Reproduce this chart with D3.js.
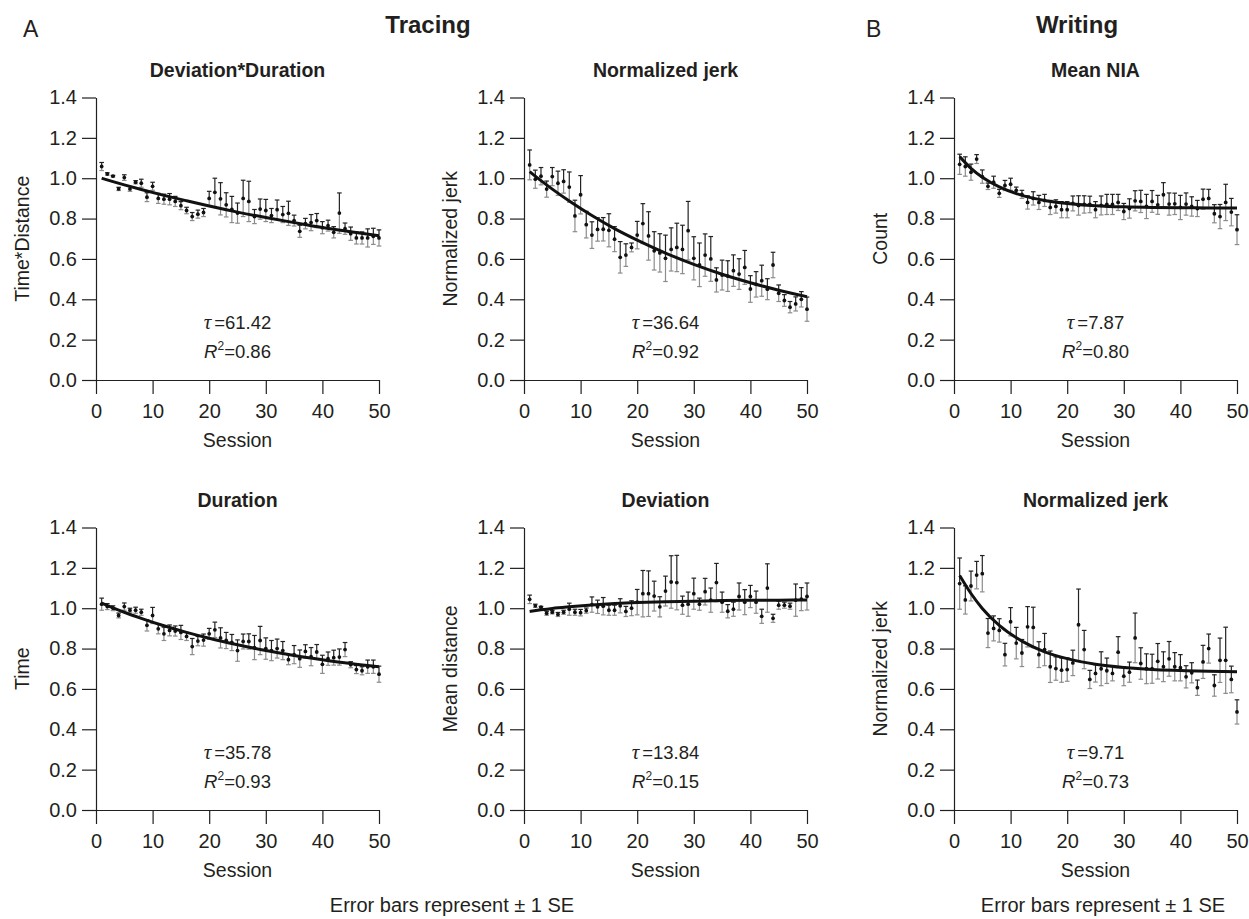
<!DOCTYPE html>
<html>
<head>
<meta charset="utf-8">
<script src="https://cdn.jsdelivr.net/npm/d3@7/dist/d3.min.js"></script>
<style>
  body { margin: 0; background: #fff; }
  svg { display: block; font-family: "Liberation Sans", Arial, Helvetica, sans-serif; }
</style>
</head>
<body>
<svg id="fig"></svg>
<script>
// sessions 1..50
var sessions = [1,2,3,4,5,6,7,8,9,10,11,12,13,14,15,16,17,18,19,20,
  21,22,23,24,25,26,27,28,29,30,31,32,33,34,35,36,37,38,39,40,
  41,42,43,44,45,46,47,48,49,50];

var xTicks = [0, 10, 20, 30, 40, 50];
var yTicks = [0, 0.2, 0.4, 0.6, 0.8, 1.0, 1.2, 1.4];

// Tracing - Deviation*Duration
var devDurMean = [1.058,1.021,1.01,0.947,1.003,0.947,0.98,0.975,0.906,0.96,
  0.90,0.896,0.896,0.885,0.864,0.84,0.81,0.822,0.83,0.90,
  0.93,0.898,0.868,0.845,0.827,0.90,0.885,0.81,0.847,0.84,
  0.815,0.844,0.82,0.826,0.79,0.737,0.775,0.78,0.79,0.755,
  0.765,0.732,0.827,0.75,0.725,0.704,0.704,0.704,0.712,0.704];
var devDurSE = [0.02,0.006,0.004,0.008,0.014,0.012,0.008,0.02,0.022,0.02,
  0.025,0.025,0.028,0.025,0.02,0.016,0.02,0.02,0.02,0.035,
  0.07,0.08,0.06,0.065,0.05,0.09,0.1,0.035,0.05,0.055,
  0.035,0.048,0.04,0.06,0.027,0.03,0.026,0.04,0.035,0.03,
  0.027,0.028,0.1,0.028,0.033,0.03,0.03,0.045,0.04,0.04];

// Tracing - Normalized jerk
var tracJerkMean = [1.066,0.995,1.01,0.946,1.008,0.975,0.984,0.956,0.813,0.918,
  0.77,0.718,0.746,0.747,0.742,0.698,0.608,0.619,0.657,0.718,
  0.775,0.714,0.64,0.63,0.603,0.647,0.657,0.647,0.74,0.603,
  0.571,0.619,0.60,0.496,0.52,0.515,0.542,0.525,0.558,0.451,
  0.474,0.492,0.45,0.57,0.43,0.394,0.361,0.377,0.40,0.351];
var tracJerkSE = [0.074,0.045,0.043,0.04,0.045,0.06,0.058,0.075,0.078,0.095,
  0.066,0.066,0.058,0.058,0.082,0.062,0.078,0.056,0.022,0.068,
  0.099,0.12,0.095,0.095,0.115,0.107,0.12,0.12,0.145,0.107,
  0.108,0.105,0.111,0.06,0.074,0.076,0.078,0.076,0.084,0.066,
  0.063,0.077,0.052,0.063,0.041,0.029,0.028,0.035,0.038,0.06];

// Writing - Mean NIA
var niaMean = [1.069,1.058,1.03,1.095,1.008,0.96,0.98,0.925,0.964,0.97,
  0.94,0.92,0.88,0.90,0.88,0.89,0.855,0.86,0.844,0.844,
  0.875,0.865,0.87,0.87,0.844,0.865,0.87,0.87,0.88,0.835,
  0.85,0.888,0.885,0.86,0.885,0.868,0.918,0.872,0.873,0.855,
  0.872,0.86,0.85,0.896,0.90,0.824,0.81,0.88,0.832,0.745];
var niaSE = [0.05,0.048,0.04,0.022,0.033,0.016,0.03,0.02,0.025,0.03,
  0.016,0.02,0.033,0.033,0.035,0.03,0.035,0.033,0.04,0.04,
  0.037,0.048,0.043,0.041,0.04,0.047,0.05,0.05,0.04,0.04,
  0.048,0.05,0.055,0.06,0.054,0.047,0.06,0.055,0.053,0.06,
  0.055,0.048,0.04,0.05,0.045,0.045,0.06,0.09,0.068,0.074];

// Tracing - Duration
var durMean = [1.02,1.008,1.0,0.964,1.008,0.99,0.99,0.98,0.915,0.964,
  0.898,0.873,0.89,0.887,0.88,0.86,0.81,0.837,0.842,0.873,
  0.893,0.853,0.84,0.83,0.79,0.835,0.835,0.805,0.84,0.80,
  0.79,0.80,0.79,0.745,0.77,0.75,0.786,0.76,0.783,0.722,
  0.75,0.755,0.758,0.795,0.72,0.696,0.69,0.71,0.71,0.673];
var durSE = [0.03,0.015,0.012,0.012,0.018,0.01,0.015,0.015,0.028,0.04,
  0.025,0.033,0.027,0.025,0.035,0.02,0.04,0.023,0.03,0.027,
  0.038,0.05,0.04,0.04,0.053,0.037,0.038,0.06,0.07,0.053,
  0.05,0.047,0.045,0.025,0.045,0.043,0.033,0.045,0.037,0.045,
  0.033,0.037,0.04,0.035,0.015,0.02,0.02,0.033,0.033,0.04];

// Tracing - Deviation
var devMean = [1.044,1.012,1.005,0.975,0.98,0.969,0.98,0.995,0.98,0.978,
  0.988,1.018,1.007,1.01,0.99,0.99,1.012,0.984,1.0,1.03,
  1.072,1.072,1.06,1.007,1.085,1.13,1.127,1.015,1.02,1.072,
  1.02,1.082,1.04,1.127,1.03,0.985,0.995,1.058,1.03,1.058,
  1.03,0.96,1.1,0.95,1.015,1.015,1.01,1.04,1.045,1.058];
var devSE = [0.021,0.008,0.004,0.01,0.008,0.01,0.01,0.03,0.015,0.016,
  0.013,0.038,0.033,0.043,0.025,0.025,0.035,0.025,0.037,0.063,
  0.115,0.113,0.074,0.05,0.074,0.13,0.135,0.045,0.06,0.077,
  0.03,0.066,0.06,0.095,0.05,0.033,0.035,0.067,0.062,0.055,
  0.055,0.035,0.12,0.02,0.02,0.015,0.015,0.08,0.057,0.067];

// Writing - Normalized jerk
var wriJerkMean = [1.122,1.041,1.11,1.164,1.171,0.877,0.90,0.89,0.77,0.933,
  0.827,0.778,0.908,0.905,0.77,0.795,0.71,0.701,0.693,0.696,
  0.729,0.918,0.795,0.647,0.677,0.70,0.69,0.677,0.782,0.663,
  0.683,0.853,0.726,0.70,0.70,0.737,0.71,0.749,0.71,0.705,
  0.66,0.68,0.606,0.734,0.80,0.617,0.742,0.742,0.647,0.486];
var wriJerkSE = [0.127,0.07,0.074,0.068,0.09,0.072,0.062,0.058,0.056,0.07,
  0.078,0.067,0.1,0.1,0.064,0.08,0.078,0.058,0.06,0.058,
  0.063,0.177,0.095,0.045,0.043,0.084,0.063,0.037,0.077,0.047,
  0.05,0.123,0.078,0.074,0.072,0.088,0.074,0.086,0.07,0.065,
  0.055,0.05,0.038,0.082,0.072,0.053,0.11,0.164,0.066,0.06];

// fitted exponential curves at these sessions
var fitSessions = [1, 3, 5, 8, 12, 16, 20, 25, 30, 35, 40, 45, 50];
var devDurFit   = [1.0, 0.983, 0.967, 0.944, 0.915, 0.888, 0.862, 0.832, 0.805, 0.780, 0.756, 0.735, 0.715];
var tracJerkFit = [1.033, 0.988, 0.946, 0.887, 0.815, 0.750, 0.693, 0.629, 0.573, 0.524, 0.482, 0.445, 0.413];
var niaFit      = [1.107, 1.049, 1.005, 0.957, 0.915, 0.890, 0.875, 0.864, 0.858, 0.855, 0.854, 0.853, 0.852];
var durFit      = [1.025, 1.002, 0.980, 0.950, 0.913, 0.880, 0.851, 0.819, 0.790, 0.766, 0.745, 0.726, 0.710];
var devFit      = [0.984, 0.992, 0.999, 1.007, 1.016, 1.023, 1.028, 1.032, 1.035, 1.038, 1.039, 1.040, 1.041];
var wriJerkFit  = [1.162, 1.073, 0.999, 0.915, 0.837, 0.784, 0.750, 0.722, 0.706, 0.696, 0.691, 0.687, 0.685];

var titles = ['Deviation*Duration', 'Normalized jerk', 'Mean NIA', 'Duration', 'Deviation', 'Normalized jerk'];
var yLabels = ['Time*Distance', 'Normalized jerk', 'Count', 'Time', 'Mean distance', 'Normalized jerk'];
var taus = ['61.42', '36.64', '7.87', '35.78', '13.84', '9.71'];
var r2s = ['0.86', '0.92', '0.80', '0.93', '0.15', '0.73'];

var svg = d3.select('#fig')
  .attr('width', 1249)
  .attr('height', 919)

svg.append('rect').attr('width', 1249).attr('height', 919).attr('fill', '#fff')

var ink = '#231f20'
var plotW = 283, plotH = 282.5

// panel grid: left edge of each column, bottom (y=0) of each row
var colX = [96, 524, 954]
var rowY = [380, 810]

var means = [devDurMean, tracJerkMean, niaMean, durMean, devMean, wriJerkMean]
var ses = [devDurSE, tracJerkSE, niaSE, durSE, devSE, wriJerkSE]
var fits = [devDurFit, tracJerkFit, niaFit, durFit, devFit, wriJerkFit]

var x = d3.scaleLinear().domain([0, 50]).range([0, plotW])
var y = d3.scaleLinear().domain([0, 1.4]).range([plotH, 0])

means.forEach(function(m, k) {
  var g = svg.append('g')
    .attr('transform', 'translate(' + colX[k % 3] + ',' + (rowY[Math.floor(k / 3)] - plotH) + ')')

  // axes
  g.append('g')
    .attr('transform', 'translate(0,' + plotH + ')')
    .call(d3.axisBottom(x).tickValues(xTicks).tickSize(14).tickSizeOuter(0).tickPadding(10))
    .attr('font-size', 20).attr('font-family', null).attr('color', ink)
  g.append('g')
    .call(d3.axisLeft(y).tickValues(yTicks).tickFormat(d3.format('.1f')).tickSize(14).tickSizeOuter(0).tickPadding(5))
    .attr('font-size', 20).attr('font-family', null).attr('color', ink)
  g.selectAll('.domain, .tick line').attr('stroke-width', 1.2)

  // labels
  g.append('text')
    .attr('x', plotW / 2).attr('y', plotH + 67)
    .attr('text-anchor', 'middle').attr('font-size', 19.5).attr('fill', ink)
    .text('Session')
  g.append('text')
    .attr('transform', 'translate(-67,' + (plotH / 2) + ') rotate(-90)')
    .attr('text-anchor', 'middle').attr('font-size', 19.5).attr('fill', ink)
    .text(yLabels[k])
  g.append('text')
    .attr('x', plotW / 2).attr('y', -21)
    .attr('text-anchor', 'middle').attr('font-size', 19.5).attr('font-weight', 'bold').attr('fill', ink)
    .text(titles[k])

  // error bars: upper half dark, lower half grey
  var bars = g.selectAll('.bar')
    .data(sessions)
    .enter().append('g')
    .attr('class', 'bar')
  bars.append('line')
    .attr('x1', function(d) { return x(d) }).attr('x2', function(d) { return x(d) })
    .attr('y1', function(d, i) { return y(m[i] + ses[k][i]) })
    .attr('y2', function(d, i) { return y(m[i]) })
    .attr('stroke', '#222').attr('stroke-width', 1.2)
  bars.append('line')
    .attr('x1', function(d) { return x(d) - 2.3 }).attr('x2', function(d) { return x(d) + 2.3 })
    .attr('y1', function(d, i) { return y(m[i] + ses[k][i]) })
    .attr('y2', function(d, i) { return y(m[i] + ses[k][i]) })
    .attr('stroke', '#222').attr('stroke-width', 1.2)
  bars.append('line')
    .attr('x1', function(d) { return x(d) }).attr('x2', function(d) { return x(d) })
    .attr('y1', function(d, i) { return y(m[i]) })
    .attr('y2', function(d, i) { return y(m[i] - ses[k][i]) })
    .attr('stroke', '#8c8c8c').attr('stroke-width', 1.2)
  bars.append('line')
    .attr('x1', function(d) { return x(d) - 2.3 }).attr('x2', function(d) { return x(d) + 2.3 })
    .attr('y1', function(d, i) { return y(m[i] - ses[k][i]) })
    .attr('y2', function(d, i) { return y(m[i] - ses[k][i]) })
    .attr('stroke', '#8c8c8c').attr('stroke-width', 1.2)
  bars.append('circle')
    .attr('cx', function(d) { return x(d) })
    .attr('cy', function(d, i) { return y(m[i]) })
    .attr('r', 1.9)
    .attr('fill', '#111')

  // fitted curve
  var line = d3.line()
    .x(function(d) { return x(d[0]) })
    .y(function(d) { return y(d[1]) })
    .curve(d3.curveMonotoneX)
  g.append('path')
    .datum(d3.zip(fitSessions, fits[k]))
    .attr('d', line)
    .attr('fill', 'none').attr('stroke', '#111').attr('stroke-width', 3)

  // tau and R^2
  var t1 = g.append('text')
    .attr('x', plotW / 2).attr('y', plotH - 51)
    .attr('text-anchor', 'middle').attr('font-size', 18.5).attr('fill', ink)
  t1.append('tspan').attr('font-family', '"Liberation Serif", "DejaVu Serif", serif').attr('font-style', 'italic').attr('font-size', 21).text('τ')
  t1.append('tspan').attr('dx', 3).text('=' + taus[k])
  var t2 = g.append('text')
    .attr('x', plotW / 2).attr('y', plotH - 22)
    .attr('text-anchor', 'middle').attr('font-size', 18.5).attr('fill', ink)
  t2.append('tspan').attr('font-style', 'italic').text('R')
  t2.append('tspan').attr('font-size', 12).attr('dy', -8).text('2')
  t2.append('tspan').attr('dy', 8).text('=' + r2s[k])
})

// figure headers
svg.append('text').attr('x', 23).attr('y', 37).attr('font-size', 23).attr('fill', ink).text('A')
svg.append('text').attr('x', 866).attr('y', 37).attr('font-size', 23).attr('fill', ink).text('B')
svg.append('text').attr('x', 428).attr('y', 33).attr('text-anchor', 'middle')
  .attr('font-size', 24).attr('font-weight', 'bold').attr('fill', ink).text('Tracing')
svg.append('text').attr('x', 1077).attr('y', 33).attr('text-anchor', 'middle')
  .attr('font-size', 24).attr('font-weight', 'bold').attr('fill', ink).text('Writing')

// footers
svg.append('text').attr('x', 452).attr('y', 912).attr('text-anchor', 'middle')
  .attr('font-size', 20).attr('fill', ink).text('Error bars represent ± 1 SE')
svg.append('text').attr('x', 1103).attr('y', 912).attr('text-anchor', 'middle')
  .attr('font-size', 20).attr('fill', ink).text('Error bars represent ± 1 SE')
</script>
</body>
</html>
